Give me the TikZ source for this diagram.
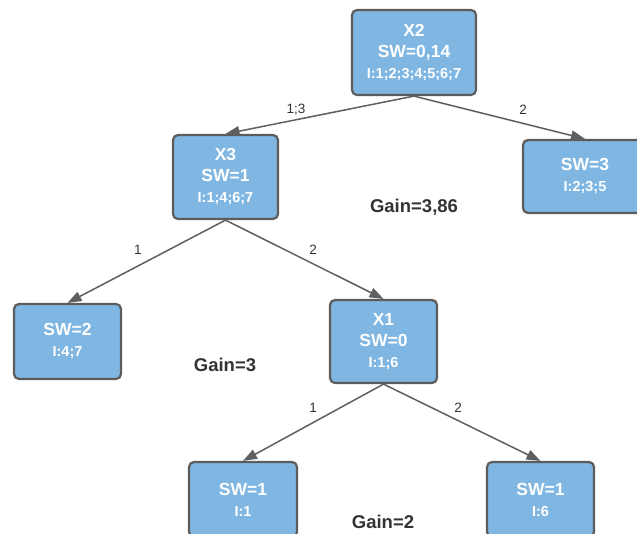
\documentclass[tikz,border=0pt]{standalone}
\usepackage{fontspec}
\setmainfont{Liberation Sans}
\usetikzlibrary{arrows.meta}
\definecolor{boxfill}{HTML}{80B6E2}
\definecolor{boxline}{HTML}{5C5C5C}
\definecolor{edgeline}{HTML}{5F5F5F}
\definecolor{labeltext}{HTML}{333333}
% smaller size for the instance list line of a box
\newcommand\idsize[1]{\fontsize{14.5}{#1}\selectfont}

\begin{document}
\begin{tikzpicture}[x=1pt,y=-1pt,
  treebox/.style={draw=boxline, fill=boxfill, line width=2.2pt, rounded corners=5pt,
    text=white, font=\fontsize{17.5}{21}\selectfont\bfseries, align=center, inner sep=0pt},
  branch/.style={draw=edgeline, line width=1.5pt, -{Triangle[length=14pt,width=10pt]}},
  edgelabel/.style={text=labeltext, font=\fontsize{13.5}{15}\selectfont, inner sep=0pt},
  gainlabel/.style={text=labeltext, font=\fontsize{18.5}{20}\selectfont\bfseries, inner sep=0pt}]
\useasboundingbox (0,0) rectangle (637,533);

% decision tree nodes
\node[treebox, minimum width=124pt, minimum height=85pt] (x2) at (414,52.5)
  {X2\\SW=0,14\\\idsize{19.5}I:1;2;3;4;5;6;7};
\node[treebox, minimum width=105pt, minimum height=84pt] (x3) at (225.5,177)
  {X3\\SW=1\\\idsize{19.5}I:1;4;6;7};
\node[treebox, minimum width=124pt, minimum height=73pt] (sw3) at (585,176.5)
  {SW=3\\\idsize{16.5}I:2;3;5};
\node[treebox, minimum width=107pt, minimum height=75pt] (sw2) at (67.5,341.5)
  {SW=2\\\idsize{16.5}I:4;7};
\node[treebox, minimum width=107pt, minimum height=83pt] (x1) at (383.5,341.5)
  {X1\\SW=0\\\idsize{19.5}I:1;6};
\node[treebox, minimum width=108pt, minimum height=75pt] (swl) at (243,499.5)
  {SW=1\\\idsize{16.5}I:1};
\node[treebox, minimum width=107pt, minimum height=75pt] (swr) at (540.5,499.5)
  {SW=1\\\idsize{16.5}I:6};

% branches
\draw[branch] (x2.south) -- (x3.north);
\draw[branch] (x2.south) -- (sw3.north);
\draw[branch] (x3.south) -- (sw2.north);
\draw[branch] (x3.south) -- (x1.north);
\draw[branch] (x1.south) -- (swl.north);
\draw[branch] (x1.south) -- (swr.north);

% branch values
\node[edgelabel] (l13) at (296,110) {1;3};
\node[edgelabel] (l2a) at (523,110) {2};
\node[edgelabel] (l1b) at (138,250) {1};
\node[edgelabel] (l2b) at (313,250) {2};
\node[edgelabel] (l1c) at (313,408) {1};
\node[edgelabel] (l2c) at (458,408) {2};

% information gain per split
\node[gainlabel] (g1) at (414,207.5) {Gain=3,86};
\node[gainlabel] (g2) at (225,365) {Gain=3};
\node[gainlabel] (g3) at (383,522) {Gain=2};
\end{tikzpicture}
\end{document}
